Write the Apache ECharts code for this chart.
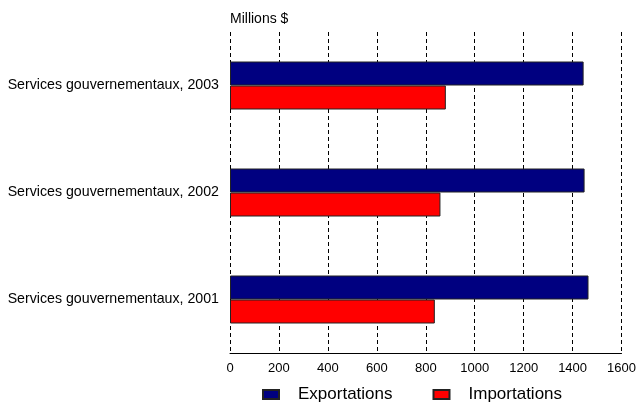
<!DOCTYPE html>
<html>
<head>
<meta charset="utf-8">
<script src="https://cdn.jsdelivr.net/npm/echarts@6/dist/echarts.min.js"></script>
<style>
html,body{margin:0;padding:0;background:#fff;}
#chart{width:639px;height:405px;}
</style>
</head>
<body>
<div id="chart"></div>
<script>
const categories = ['Services gouvernementaux, 2001', 'Services gouvernementaux, 2002', 'Services gouvernementaux, 2003'];
const exportations = [1465, 1449, 1445];
const importations = [837, 860, 882];
const seriesNames = ['Exportations', 'Importations'];
const unitLabel = 'Millions $';

const chart = echarts.init(document.getElementById('chart'), null, {renderer: 'canvas'});
const FONT = 'Liberation Sans, Arial, sans-serif';
chart.setOption({
  animation: false,
  backgroundColor: '#ffffff',
  textStyle: {fontFamily: FONT},
  title: {
    text: unitLabel,
    left: 230, top: 12, padding: 0,
    textStyle: {fontSize: 14, fontWeight: 'normal', color: '#000', fontFamily: FONT}
  },
  grid: {left: 230, right: 14, top: 32, bottom: 52, containLabel: false},
  legend: {
    data: seriesNames,
    left: 262, top: 386, padding: 0,
    itemWidth: 16, itemHeight: 9, itemGap: 40,
    icon: 'rect',
    textStyle: {fontSize: 17, color: '#000', fontFamily: FONT, padding: [0, 0, 0, 14]}
  },
  xAxis: {
    type: 'value', min: 0, max: 1600, interval: 200,
    axisLine: {show: true, lineStyle: {color: '#000', width: 1}},
    axisTick: {show: false},
    axisLabel: {color: '#000', fontSize: 13, margin: 9, fontFamily: FONT, formatter: function (v) { return String(v); }},
    splitLine: {show: true, lineStyle: {color: '#000', type: [4, 3], width: 1}}
  },
  yAxis: {
    type: 'category', data: categories,
    axisLine: {show: false},
    axisTick: {show: false},
    axisLabel: {color: '#000', fontSize: 14.2, margin: 11, fontFamily: FONT}
  },
  series: [
    {
      name: seriesNames[0], type: 'bar', data: exportations,
      barWidth: 24, barGap: '0%',
      itemStyle: {color: '#000080', borderColor: '#222', borderWidth: 1}
    },
    {
      name: seriesNames[1], type: 'bar', data: importations,
      barWidth: 24, barGap: '0%',
      itemStyle: {color: '#ff0000', borderColor: '#222', borderWidth: 1}
    }
  ]
});
</script>
</body>
</html>
